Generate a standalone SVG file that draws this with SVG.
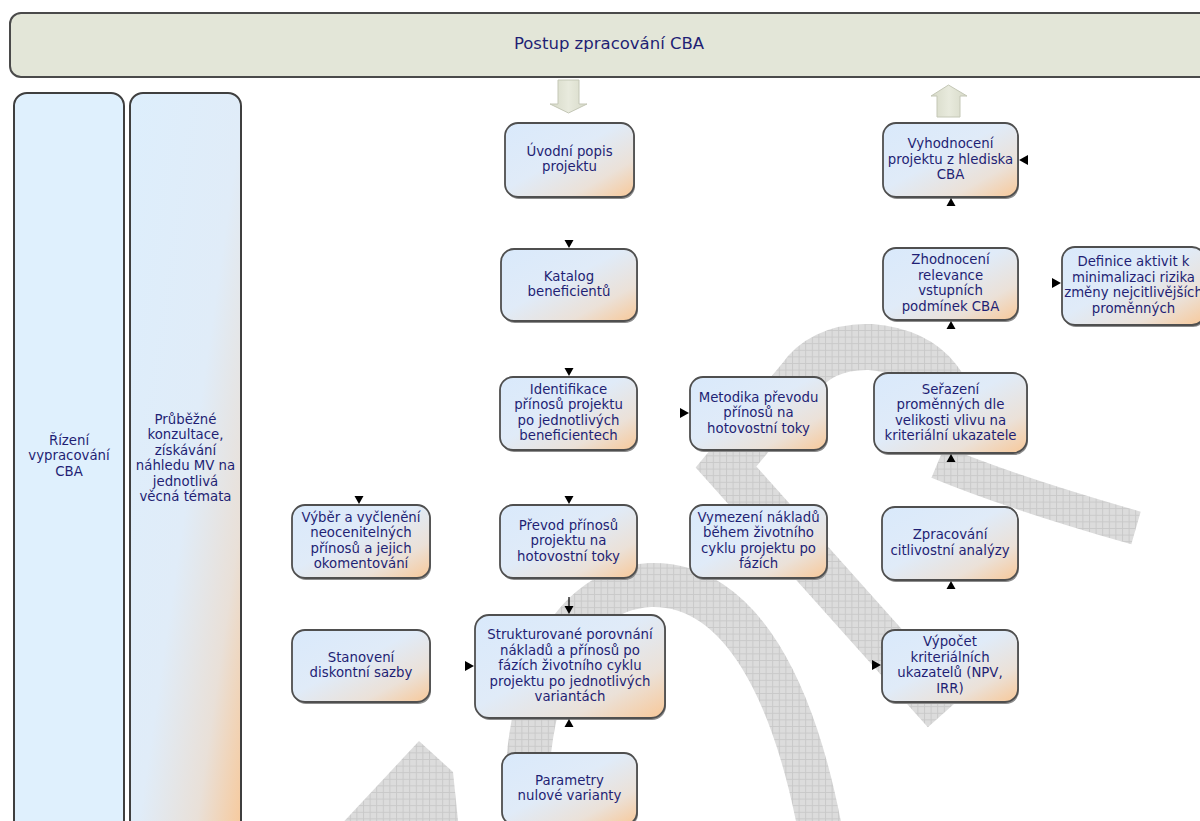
<svg xmlns="http://www.w3.org/2000/svg" xmlns:xlink="http://www.w3.org/1999/xlink" width="1200" height="821" viewBox="0 0 1200 821">
  <defs>
    <style>
      text { font-family: "DejaVu Sans", Verdana, sans-serif; font-size: 13.3px; fill: #1f1f74; text-anchor: middle; }
      .title { font-size: 16.5px; }
      .node .sh { fill: #8c8c8c; }
      .node .bg { fill: url(#nodeFill); stroke: #4f4f4f; stroke-width: 1.8; }
      .lane { stroke: #3f3f3f; stroke-width: 2; }
      .wm { fill: url(#hatch); }
      .wms { fill: none; stroke: url(#hatch); }
      .ah { fill: #000; }
      .blk { fill: url(#blockFill); stroke: #c4c7b6; stroke-width: 1; }
    </style>
    <linearGradient id="nodeFill" x1="0" y1="0" x2="1" y2="1">
      <stop offset="0" stop-color="#d9e9fb"/>
      <stop offset="0.45" stop-color="#e0ebf8"/>
      <stop offset="0.75" stop-color="#ebe1d8"/>
      <stop offset="1" stop-color="#f8c898"/>
    </linearGradient>
    <linearGradient id="laneFill" x1="0" y1="0" x2="1" y2="1">
      <stop offset="0" stop-color="#ddeefc"/>
      <stop offset="0.52" stop-color="#e0ecf8"/>
      <stop offset="0.78" stop-color="#e9e0d8"/>
      <stop offset="1" stop-color="#f8c898"/>
    </linearGradient>
    <linearGradient id="blockFill" x1="0" y1="0" x2="1" y2="0">
      <stop offset="0" stop-color="#d6d9c7"/>
      <stop offset="0.5" stop-color="#e8eadd"/>
      <stop offset="1" stop-color="#d6d9c7"/>
    </linearGradient>
    <pattern id="hatch" width="6.6" height="6.6" patternUnits="userSpaceOnUse">
      <rect width="6.6" height="6.6" fill="#dcdcdc"/>
      <path d="M0 0.5H6.6M0.5 0V6.6" stroke="#c9c9c9" stroke-width="1"/>
    </pattern>
    <!-- arrowheads, tip at origin -->
    <path id="ah-down" d="M-4.5 -8 L4.5 -8 L0 0 Z"/>
    <path id="ah-up" d="M-4.5 8 L4.5 8 L0 0 Z"/>
    <path id="ah-right" d="M-9 -5 L-9 5 L0 0 Z"/>
    <path id="ah-left" d="M9 -5 L9 5 L0 0 Z"/>
  </defs>

  <rect width="1200" height="821" fill="#ffffff"/>

  <!-- background emblem -->
  <g id="emblem">
    <path class="wms" stroke-width="44" d="M527 840 C520 700 560 590 650 585 C740 582 795 690 822 840"/>
    <path class="wms" stroke-width="46" stroke-linejoin="miter" d="M955 440 C958 395 935 352 870 347 C835 346 812 360 800 378 L726 467 L945 712"/>
    <path class="wms" stroke-width="34" d="M938 462 Q1010 492 1136 528"/>
    <path class="wm" d="M336 830 L419 741 L453 772 L459 830 Z"/>
  </g>

  <!-- header bar -->
  <g id="header">
    <rect x="10" y="13" width="1220" height="64" rx="11" fill="#e3e6d8" stroke="#4a4a4a" stroke-width="2"/>
    <text class="title" x="609" y="48.5">Postup zpracování CBA</text>
  </g>

  <!-- swimlanes -->
  <g id="lane-rizeni">
    <rect class="lane" x="14" y="93" width="110" height="760" rx="13" fill="#dff0fd"/>
    <text x="69" y="444.6">Řízení</text>
    <text x="69" y="460.1">vypracování</text>
    <text x="69" y="475.6">CBA</text>
  </g>
  <g id="lane-konzultace">
    <rect class="lane" x="130" y="93" width="111" height="760" rx="13" fill="url(#laneFill)"/>
    <text x="185.5" y="423.6">Průběžné</text>
    <text x="185.5" y="439.1">konzultace,</text>
    <text x="185.5" y="454.6">získávání</text>
    <text x="185.5" y="470.1">náhledu MV na</text>
    <text x="185.5" y="485.6">jednotlivá</text>
    <text x="185.5" y="501.1">věcná témata</text>
  </g>

  <!-- entry / exit block arrows -->
  <g id="entry-arrow">
    <path class="blk" d="M558 80 H579 V104 H587 L568.5 113 L550 104 H558 Z"/>
  </g>
  <g id="exit-arrow">
    <path class="blk" d="M937 117 H960 V96 H967 L948.5 85 L931 96 H937 Z"/>
  </g>

  <!-- process steps -->
  <g id="uvodni-popis" class="node">
    <rect class="sh" x="506" y="125" width="129" height="74" rx="13"/>
    <rect class="bg" x="505" y="123" width="129" height="74" rx="13"/>
    <text x="569.5" y="155.9">Úvodní popis</text>
    <text x="569.5" y="171.3">projektu</text>
  </g>
  <g id="katalog" class="node">
    <rect class="sh" x="502" y="251" width="136" height="72" rx="13"/>
    <rect class="bg" x="501" y="249" width="136" height="72" rx="13"/>
    <text x="569" y="280.9">Katalog</text>
    <text x="569" y="296.4">beneficientů</text>
  </g>
  <g id="identifikace" class="node">
    <rect class="sh" x="501" y="379" width="137" height="73" rx="13"/>
    <rect class="bg" x="500" y="377" width="137" height="73" rx="13"/>
    <text x="568.5" y="393.9">Identifikace</text>
    <text x="568.5" y="409.4">přínosů projektu</text>
    <text x="568.5" y="424.9">po jednotlivých</text>
    <text x="568.5" y="440.4">beneficientech</text>
  </g>
  <g id="metodika" class="node">
    <rect class="sh" x="691" y="379" width="137" height="73" rx="13"/>
    <rect class="bg" x="690" y="377" width="137" height="73" rx="13"/>
    <text x="758.5" y="401.6">Metodika převodu</text>
    <text x="758.5" y="417.1">přínosů na</text>
    <text x="758.5" y="432.6">hotovostní toky</text>
  </g>
  <g id="prevod" class="node">
    <rect class="sh" x="501" y="507" width="137" height="73" rx="13"/>
    <rect class="bg" x="500" y="505" width="137" height="73" rx="13"/>
    <text x="568.5" y="529.6">Převod přínosů</text>
    <text x="568.5" y="545.1">projektu na</text>
    <text x="568.5" y="560.6">hotovostní toky</text>
  </g>
  <g id="vymezeni" class="node">
    <rect class="sh" x="691" y="507" width="137" height="73" rx="13"/>
    <rect class="bg" x="690" y="505" width="137" height="73" rx="13"/>
    <text x="758.5" y="521.9">Vymezení nákladů</text>
    <text x="758.5" y="537.4">během životního</text>
    <text x="758.5" y="552.9">cyklu projektu po</text>
    <text x="758.5" y="568.4">fázích</text>
  </g>
  <g id="vyber" class="node">
    <rect class="sh" x="293" y="507" width="138" height="73" rx="13"/>
    <rect class="bg" x="292" y="505" width="138" height="73" rx="13"/>
    <text x="361" y="521.9">Výběr a vyčlenění</text>
    <text x="361" y="537.4">neocenitelných</text>
    <text x="361" y="552.9">přínosů a jejich</text>
    <text x="361" y="568.4">okomentování</text>
  </g>
  <g id="stanoveni" class="node">
    <rect class="sh" x="293" y="632" width="138" height="72" rx="13"/>
    <rect class="bg" x="292" y="630" width="138" height="72" rx="13"/>
    <text x="361" y="661.9">Stanovení</text>
    <text x="361" y="677.4">diskontní sazby</text>
  </g>
  <g id="strukturovane" class="node">
    <rect class="sh" x="476" y="617" width="190" height="103" rx="14"/>
    <rect class="bg" x="475" y="615" width="190" height="103" rx="14"/>
    <text x="570" y="639.1">Strukturované porovnání</text>
    <text x="570" y="654.6">nákladů a přínosů po</text>
    <text x="570" y="670.1">fázích životního cyklu</text>
    <text x="570" y="685.6">projektu po jednotlivých</text>
    <text x="570" y="701.1">variantách</text>
  </g>
  <g id="parametry" class="node">
    <rect class="sh" x="503" y="755" width="135" height="72" rx="13"/>
    <rect class="bg" x="502" y="753" width="135" height="72" rx="13"/>
    <text x="569.5" y="784.9">Parametry</text>
    <text x="569.5" y="800.4">nulové varianty</text>
  </g>
  <g id="vyhodnoceni" class="node">
    <rect class="sh" x="884" y="125" width="135" height="74" rx="13"/>
    <rect class="bg" x="883" y="123" width="135" height="74" rx="13"/>
    <text x="950.5" y="148.1">Vyhodnocení</text>
    <text x="950.5" y="163.6">projektu z hlediska</text>
    <text x="950.5" y="179.1">CBA</text>
  </g>
  <g id="zhodnoceni" class="node">
    <rect class="sh" x="884" y="250" width="135" height="72" rx="13"/>
    <rect class="bg" x="883" y="248" width="135" height="72" rx="13"/>
    <text x="950.5" y="264.4">Zhodnocení</text>
    <text x="950.5" y="279.9">relevance</text>
    <text x="950.5" y="295.4">vstupních</text>
    <text x="950.5" y="310.9">podmínek CBA</text>
  </g>
  <g id="definice" class="node">
    <rect class="sh" x="1063" y="249" width="143" height="78" rx="13"/>
    <rect class="bg" x="1062" y="247" width="143" height="78" rx="13"/>
    <text x="1133.5" y="266.4">Definice aktivit k</text>
    <text x="1133.5" y="281.9">minimalizaci rizika</text>
    <text x="1133.5" y="297.4">změny nejcitlivějších</text>
    <text x="1133.5" y="312.9">proměnných</text>
  </g>
  <g id="serazeni" class="node">
    <rect class="sh" x="875" y="375" width="153" height="80" rx="14"/>
    <rect class="bg" x="874" y="373" width="153" height="80" rx="14"/>
    <text x="950.5" y="393.9">Seřazení</text>
    <text x="950.5" y="409.4">proměnných dle</text>
    <text x="950.5" y="424.9">velikosti vlivu na</text>
    <text x="950.5" y="440.4">kriteriální ukazatele</text>
  </g>
  <g id="zpracovani" class="node">
    <rect class="sh" x="883" y="509" width="136" height="73" rx="13"/>
    <rect class="bg" x="882" y="507" width="136" height="73" rx="13"/>
    <text x="950" y="539.4">Zpracování</text>
    <text x="950" y="554.9">citlivostní analýzy</text>
  </g>
  <g id="vypocet" class="node">
    <rect class="sh" x="883" y="632" width="136" height="72" rx="13"/>
    <rect class="bg" x="882" y="630" width="136" height="72" rx="13"/>
    <text x="950" y="646.4">Výpočet</text>
    <text x="950" y="661.9">kriteriálních</text>
    <text x="950" y="677.4">ukazatelů (NPV,</text>
    <text x="950" y="692.9">IRR)</text>
  </g>

  <!-- connectors: only their arrowheads show at the box edges -->
  <g id="connectors" class="ah">
    <use xlink:href="#ah-down" x="569" y="248"/>
    <use xlink:href="#ah-down" x="569" y="376"/>
    <use xlink:href="#ah-down" x="569" y="504"/>
    <use xlink:href="#ah-down" x="359" y="504"/>
    <path d="M569 597 V607" stroke="#000" stroke-width="1.2"/>
    <use xlink:href="#ah-down" x="569" y="614"/>
    <use xlink:href="#ah-up" x="569" y="719"/>
    <use xlink:href="#ah-right" x="474" y="666"/>
    <use xlink:href="#ah-right" x="689" y="413"/>
    <use xlink:href="#ah-right" x="1061" y="283"/>
    <use xlink:href="#ah-right" x="881" y="665"/>
    <use xlink:href="#ah-left" x="1019" y="160"/>
    <use xlink:href="#ah-up" x="951" y="198"/>
    <use xlink:href="#ah-up" x="951" y="321"/>
    <use xlink:href="#ah-up" x="951" y="454"/>
    <use xlink:href="#ah-up" x="951" y="581"/>
  </g>
</svg>
